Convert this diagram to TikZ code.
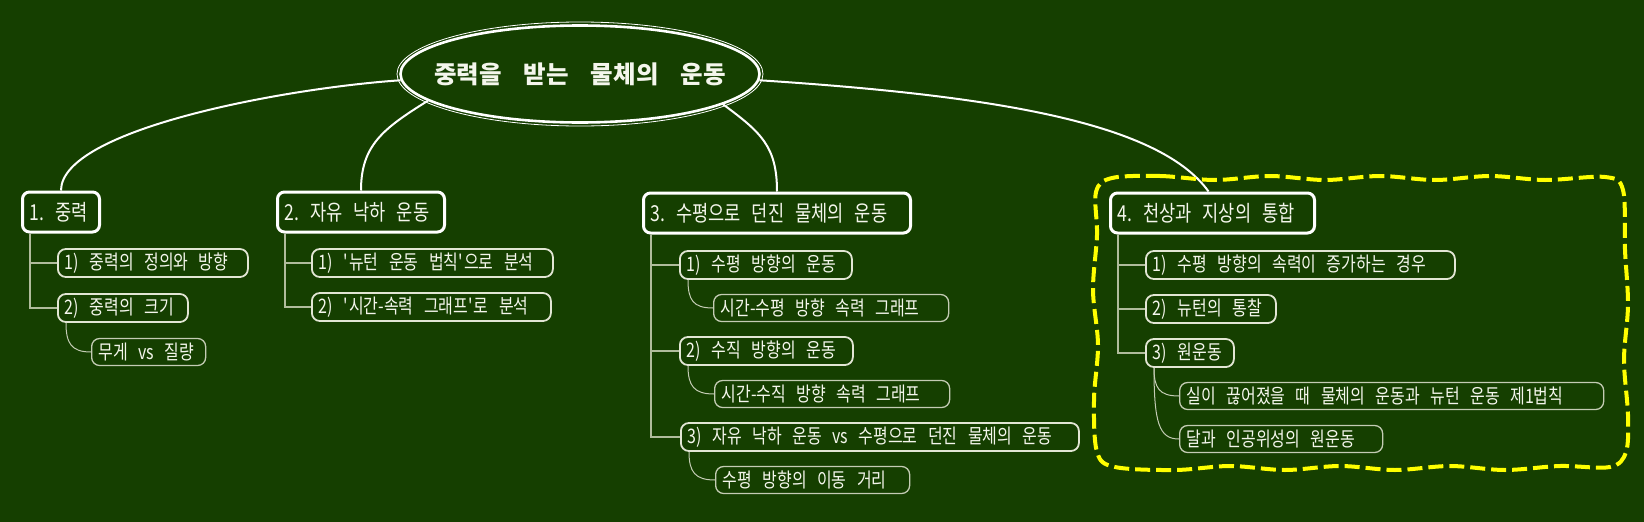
\documentclass[tikz,border=0pt]{standalone}
\usepackage{fontspec}
\setmainfont{Noto Sans CJK KR}[FakeStretch=0.8]
\newfontfamily\rootfont{Noto Sans CJK KR}
\usetikzlibrary{shapes.geometric}

\definecolor{board}{HTML}{153F00}
\definecolor{chalk}{HTML}{F4F6EC}
\definecolor{subline}{HTML}{E2E6D4}
\definecolor{leafline}{HTML}{C4CCB4}
\definecolor{branch}{HTML}{B0BC9C}
\definecolor{marker}{HTML}{FFFF00}

\begin{document}
\begin{tikzpicture}[
  x=1pt,y=-1pt,
  ring/.style={ellipse,draw=white,line width=2.6pt,minimum width=359pt,minimum height=97pt,inner sep=0pt},
  title/.style={text=chalk,font={\rootfont\fontsize{24.5}{28}\selectfont\bfseries},
    execute at begin node={\spaceskip=22pt\relax}},
  topic/.style={draw=white,line width=3pt,rounded corners=7pt,minimum height=40pt,inner xsep=7pt,anchor=west,
    align=left,text=chalk,font={\fontsize{22}{25}\selectfont},
    execute at begin node={\spaceskip=11pt minus 4pt\relax}},
  sub/.style={draw=subline,line width=1.8pt,rounded corners=8pt,minimum height=28pt,inner xsep=7pt,anchor=west,
    align=left,text=chalk,font={\fontsize{20}{22}\selectfont},
    execute at begin node={\spaceskip=10.5pt minus 4pt\relax}},
  leaf/.style={sub,draw=leafline,line width=1.3pt,minimum height=27pt},
  link/.style={draw=white,line width=2pt},
  trunk/.style={draw=branch,line width=1.5pt},
  twig/.style={draw=leafline,line width=1pt},
  cloud/.style={draw=marker,line width=4pt,dash pattern=on 15pt off 6pt}
]

\fill[board] (0,0) rectangle (1644,522);
\useasboundingbox (0,0) rectangle (1644,522);

% central topic
\node[ring] (root) at (580,74) {};
\draw[white,line width=0.8pt] (root.center) ellipse (183 and 52);
\node[title] (rootlabel) at (root.center) {중력을 받는 물체의 운동};

% main branches
\node[topic,text width=63pt] (g1) at (21,212) {1. 중력};
\node[topic,text width=153pt] (g2) at (276,212) {2. 자유 낙하 운동};
\node[topic,text width=253pt] (g3) at (642,213) {3. 수평으로 던진 물체의 운동};
\node[topic,text width=190pt] (g4) at (1109,213) {4. 천상과 지상의 통합};

\draw[link] (root.182) .. controls +(-117,8) and +(0,-61) .. (g1.north);
\draw[link] (root.190) .. controls +(-45,28) and +(0,-45) .. (g2.north);
\draw[link] (root.348) .. controls +(38,28) and +(0,-45) .. (g3.north);
\draw[link] (root.358) .. controls +(230,15) and +(-50,-70) .. ([xshift=-4pt]g4.north);

% 1. 중력
\node[sub,text width=176pt] (a1) at (57,263) {1) 중력의 정의와 방향};
\node[sub,text width=116pt] (a2) at (57,308) {2) 중력의 크기};
\node[leaf,text width=100pt] (a21) at (91,352) {무게 vs 질량};

% 2. 자유 낙하 운동
\node[sub,text width=227pt] (b1) at (311,263) {1) \textquotesingle 뉴턴 운동 법칙\textquotesingle 으로 분석};
\node[sub,text width=225pt] (b2) at (311,307) {2) \textquotesingle 시간-속력 그래프\textquotesingle 로 분석};

% 3. 수평으로 던진 물체의 운동
\node[sub,text width=158pt] (c1) at (679,265) {1) 수평 방향의 운동};
\node[leaf,text width=221pt] (c11) at (713,308) {시간-수평 방향 속력 그래프};
\node[sub,text width=159pt] (c2) at (679,351) {2) 수직 방향의 운동};
\node[leaf,text width=221pt] (c21) at (714,394) {시간-수직 방향 속력 그래프};
\node[sub,text width=384pt] (c3) at (680,437) {3) 자유 낙하 운동 vs 수평으로 던진 물체의 운동};
\node[leaf,text width=180pt] (c31) at (715,480) {수평 방향의 이동 거리};

% 4. 천상과 지상의 통합
\node[sub,text width=295pt] (d1) at (1145,265) {1) 수평 방향의 속력이 증가하는 경우};
\node[sub,text width=116pt] (d2) at (1145,309) {2) 뉴턴의 통찰};
\node[sub,text width=74pt] (d3) at (1145,353) {3) 원운동};
\node[leaf,text width=410pt] (d31) at (1179,396) {실이 끊어졌을 때 물체의 운동과 뉴턴 운동 제1법칙};
\node[leaf,text width=189pt] (d32) at (1179,439) {달과 인공위성의 원운동};

\foreach \p/\c in {g1/a1,g1/a2,g2/b1,g2/b2,g3/c1,g3/c2,g3/c3,g4/d1,g4/d2,g4/d3}
  \draw[trunk] ([xshift=9pt]\p.south west) |- (\c.west);

\foreach \p/\c/\h in {a2/a21/20,c1/c11/20,c2/c21/20,c3/c31/20,d3/d31/20,d3/d32/55}
  \draw[twig] ([xshift=9pt]\p.south west) .. controls +(0,\h) and +(-20,0) .. (\c.west);

% highlight
\draw[cloud] plot[smooth cycle,tension=0.55] coordinates {
  (1112,178) (1160,176) (1215,180) (1270,176) (1325,180) (1380,176) (1435,180) (1490,176) (1545,180) (1605,177)
  (1623,190) (1625,250) (1628,305) (1624,360) (1628,415) (1626,452)
  (1610,467) (1560,466) (1505,470) (1450,466) (1395,470) (1340,466) (1285,470) (1230,466) (1175,470) (1115,467)
  (1097,452) (1094,400) (1098,345) (1093,290) (1097,235) (1096,192)};
\end{tikzpicture}
\end{document}
